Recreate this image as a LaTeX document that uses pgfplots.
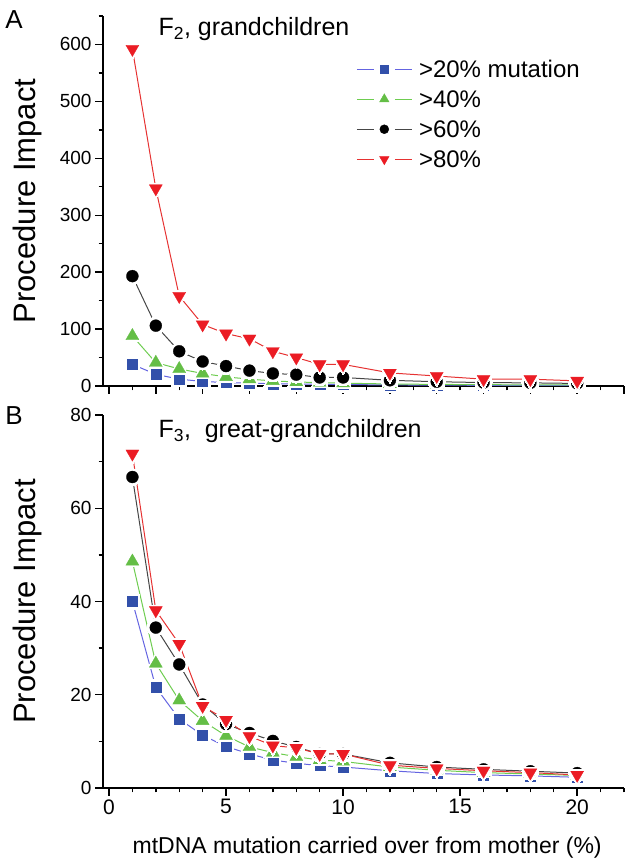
\documentclass[border=0pt]{standalone}
\usepackage{pgfplots}
\usepackage{pgfplotstable}
\pgfplotsset{compat=1.18}
\usepackage{fontspec}
\setmainfont{Liberation Sans}
\definecolor{mblue}{RGB}{50,80,170}
\definecolor{lblue}{RGB}{100,100,225}
\definecolor{mgreen}{RGB}{100,190,70}
\definecolor{lgreen}{RGB}{110,205,80}
\definecolor{lblack}{RGB}{70,70,70}
\definecolor{mred}{RGB}{235,28,36}
\definecolor{lred}{RGB}{230,50,50}

\pgfplotstableread{
x blue green black red
1 38 88 193 592
2 20.5 41 106 347
3 12 30 61 158
4 8 22 43 108
5 6 16 35 92
6 5 12 27 83
7 4 9 22 61
8 3.4 7 20 50
9 2.9 6 15 38
10 2.5 5 15 38
12 1.9 3.5 10 23
14 1.5 2.8 7.5 17.5
16 1.2 2.3 6 12
18 1.0 2.0 5.5 12
20 0.9 1.7 4.5 9
}\dataA

\pgfplotstableread{
x blue green black red
1 40 48.6 66.7 71.7
2 21.6 26.7 34.4 38.1
3 14.8 18.8 26.5 30.9
4 11.3 14.4 17.9 17.6
5 8.9 11.2 13.7 14.6
6 7.3 8.8 11.8 11.1
7 6.0 7.6 10.1 9.1
8 5.3 6.7 8.8 8.6
9 4.8 6.0 7.3 7.3
10 4.5 5.7 7.3 7.3
12 3.7 4.5 5.4 4.9
14 3.1 3.8 4.5 4.2
16 2.8 3.3 4.0 3.7
18 2.6 3.0 3.6 3.3
20 2.3 2.7 3.2 2.8
}\dataB

% #1 table, #2 column, #3 line colour, #4 mark, #5 mark colour, #6 size, #7 halo size, #8 extra mark options
\newcommand{\ser}[8]{%
  \addplot[forget plot, #3, line width=1bp, mark=none] table[x=x,y=#2]{#1};
  \addplot[forget plot, only marks, mark=#4, mark size=#7, mark options={draw=white, fill=white, line width=0pt, #8}] table[x=x,y=#2]{#1};
  \addplot[forget plot, only marks, mark=#4, mark size=#6, mark options={draw=#5, fill=#5, line width=0.3bp, #8}] table[x=x,y=#2]{#1};
}

% legend glyph: #1 line colour, #2 mark, #3 mark colour, #4 mark size, #5 extra mark options
\newcommand{\legimg}[5]{%
  \addlegendimage{legend image code/.code={
    \draw[#1, line width=1.1bp] (0bp,0bp) -- (17bp,0bp);
    \draw[#1, line width=1.1bp] (38bp,0bp) -- (55bp,0bp);
    \draw[#3, only marks, mark=#2, mark size=#4, mark options={fill=#3, draw=#3, #5}] plot coordinates {(27.5bp,0bp)};
    \path (62bp,0bp);
  }}%
}

\pgfplotsset{
  myax/.style={
    scale only axis, width=521bp,
    axis x line*=bottom, axis y line*=left,
    axis line style={line width=1.6bp},
    xmin=-0.256, xmax=22,
    tick style={line width=1.4bp, black},
    major tick length=8bp, minor tick length=4.5bp,
    tick align=outside,
    /pgf/number format/assume math mode=true,
    yticklabel style={font=\fontsize{19bp}{22bp}\selectfont},
    xticklabel style={font=\fontsize{21bp}{24bp}\selectfont},
    ylabel style={font=\fontsize{31bp}{36bp}\selectfont, at={(axis description cs:-0.145,0.5)}, anchor=center, rotate=0},
    xlabel style={font=\fontsize{23bp}{27bp}\selectfont},
    clip=false,
  }
}

\begin{document}
\begin{tikzpicture}
\begin{axis}[myax, at={(103bp,480bp)}, anchor=south west, height=370bp,
  ymin=0, ymax=650,
  ytick={0,100,...,600}, minor ytick={50,150,...,650},
  xtick={0,2,...,22}, minor xtick={1,3,...,21}, xticklabels={},
  ylabel={Procedure Impact},
  legend style={at={(axis description cs:0.48,0.885)}, anchor=north west, draw=none, fill=none,
    font=\fontsize{24bp}{28bp}\selectfont, row sep=13bp,
    nodes={inner sep=0pt, text height=17bp, text depth=0bp}},
  legend cell align=left,
]
\ser{\dataA}{blue}{lblue}{square*}{mblue}{5bp}{7.5bp}{}
\ser{\dataA}{green}{lgreen}{triangle*}{mgreen}{7.5bp}{10.5bp}{}
\ser{\dataA}{black}{lblack}{*}{black}{6bp}{8.5bp}{}
\ser{\dataA}{red}{lred}{triangle*}{mred}{7.5bp}{10.5bp}{rotate=180}
\legimg{lblue}{square*}{mblue}{3.8bp}{}
\addlegendentry{>20\% mutation}
\legimg{lgreen}{triangle*}{mgreen}{5.5bp}{}
\addlegendentry{>40\%}
\legimg{lblack}{*}{black}{4.5bp}{}
\addlegendentry{>60\%}
\legimg{lred}{triangle*}{mred}{5.5bp}{rotate=180}
\addlegendentry{>80\%}
\end{axis}

\begin{axis}[myax, at={(103bp,78bp)}, anchor=south west, height=373bp,
  ymin=0, ymax=80,
  ytick={0,20,...,80}, minor ytick={10,30,50,70},
  xtick={0,5,...,20}, minor xtick={1,2,3,4,6,7,8,9,11,12,13,14,16,17,18,19,21,22},
  ylabel={Procedure Impact},
  xlabel={mtDNA mutation carried over from mother (\%)},
  xlabel style={at={(axis description cs:0.507,-0.16)}, anchor=center},
]
\ser{\dataB}{blue}{lblue}{square*}{mblue}{5bp}{7.5bp}{}
\ser{\dataB}{green}{lgreen}{triangle*}{mgreen}{7.5bp}{10.5bp}{}
\ser{\dataB}{black}{lblack}{*}{black}{6bp}{8.5bp}{}
\ser{\dataB}{red}{lred}{triangle*}{mred}{7.5bp}{10.5bp}{rotate=180}
\end{axis}

\node[anchor=base west, font=\fontsize{25bp}{29bp}\selectfont] at (155bp,830bp) {F\textsubscript{2}, grandchildren};
\node[anchor=base west, font=\fontsize{25bp}{29bp}\selectfont] at (155bp,428bp) {F\textsubscript{3},\ \ great-grandchildren};
\node[anchor=center, font=\fontsize{26bp}{30bp}\selectfont] at (14bp,846bp) {A};
\node[anchor=center, font=\fontsize{26bp}{30bp}\selectfont] at (14bp,450bp) {B};
\pgfresetboundingbox
\path[use as bounding box] (0,0) rectangle (634bp,866bp);
\end{tikzpicture}
\end{document}
